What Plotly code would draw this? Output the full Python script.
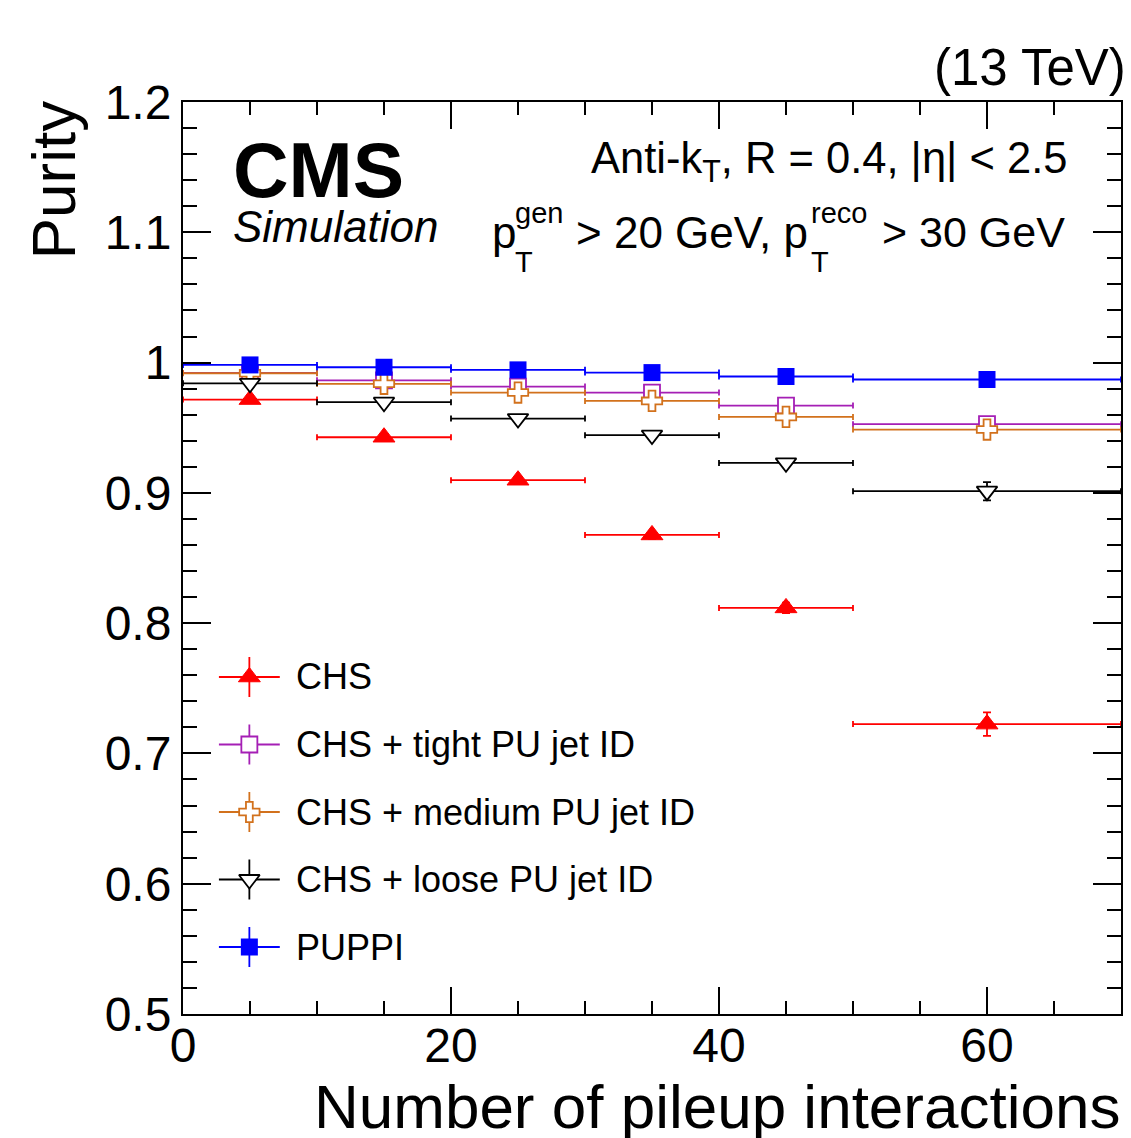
import plotly.graph_objects as go

# ---------------- data ----------------
pileup_centers = [5, 15, 25, 35, 45, 60]
pileup_halfwidths = [5, 5, 5, 5, 5, 10]

chs = [0.9716, 0.9427, 0.9097, 0.8677, 0.8117, 0.7225]
chs_err = [0.002, 0.002, 0.003, 0.003, 0.004, 0.009]

tight = [0.9920, 0.9864, 0.9816, 0.9770, 0.9670, 0.9527]
tight_err = [0.001, 0.001, 0.001, 0.002, 0.002, 0.004]

medium = [0.9918, 0.9837, 0.9770, 0.9706, 0.9583, 0.9486]
medium_err = [0.001, 0.001, 0.001, 0.002, 0.002, 0.005]

loose = [0.9841, 0.9696, 0.9570, 0.9443, 0.9230, 0.9013]
loose_err = [0.001, 0.001, 0.002, 0.002, 0.003, 0.007]

puppi = [0.9982, 0.9964, 0.9944, 0.9923, 0.9893, 0.9870]
puppi_err = [0.0005, 0.0005, 0.0005, 0.0005, 0.0008, 0.001]

series_names = ["CHS", "CHS + tight PU jet ID", "CHS + medium PU jet ID",
                "CHS + loose PU jet ID", "PUPPI"]

x_tickvals = [0, 20, 40, 60]
x_ticktext = ["0", "20", "40", "60"]
y_tickvals = [0.5, 0.6, 0.7, 0.8, 0.9, 1.0, 1.1, 1.2]
y_ticktext = ["0.5", "0.6", "0.7", "0.8", "0.9", "1", "1.1", "1.2"]

# ---------------- layout geometry ----------------
W, H = 1131, 1138
L, R, T, B = 183, 8, 102, 124
FONT = "Liberation Sans, Arial, Helvetica, sans-serif"


def pxx(x):
    return (x - L) / (W - L - R)


def pyy(y):
    return (H - B - y) / (H - T - B)


styles = [
    dict(color="#ff0000", symbol="triangle-up", size=19, fill="#ff0000", lw=1),
    dict(color="#a51fb5", symbol="square", size=16, fill="white", lw=1.8),
    dict(color="#d2711c", symbol="cross", size=17, fill="white", lw=1.8),
    dict(color="#000000", symbol="triangle-down", size=18, fill="white", lw=1.8),
    dict(color="#0000ff", symbol="square", size=17, fill="#0000ff", lw=0),
]
values = [chs, tight, medium, loose, puppi]
errors = [chs_err, tight_err, medium_err, loose_err, puppi_err]

fig = go.Figure()

for name, vals, errs, st in zip(series_names, values, errors, styles):
    fig.add_trace(go.Scatter(
        x=pileup_centers, y=vals, mode="markers", name=name, showlegend=False,
        marker=dict(symbol=st["symbol"], size=st["size"], color=st["fill"],
                    line=dict(color=st["color"], width=st["lw"])),
        error_x=dict(type="data", array=pileup_halfwidths, symmetric=True,
                     color=st["color"], thickness=1.8, width=3),
        error_y=dict(type="data", array=errs, symmetric=True,
                     color=st["color"], thickness=1.8, width=4),
    ))

# ---------------- legend (drawn on a pixel overlay axis) ----------------
leg_rows = [677, 744.5, 812, 879.5, 947]
leg_x = 249.5
for name, st, ry in zip(series_names, styles, leg_rows):
    fig.add_trace(go.Scatter(
        x=[leg_x], y=[ry], xaxis="x2", yaxis="y2", mode="markers",
        showlegend=False, hoverinfo="skip",
        marker=dict(symbol=st["symbol"], size=st["size"], color=st["fill"],
                    line=dict(color=st["color"], width=st["lw"])),
        error_x=dict(type="constant", value=30.5, color=st["color"], thickness=1.8, width=0),
        error_y=dict(type="constant", value=20, color=st["color"], thickness=1.8, width=0),
    ))

annotations = []


def ann(text, x, y, size, xanchor="left", yanchor="middle", **kw):
    annotations.append(dict(
        text=text, x=pxx(x), y=pyy(y), xref="paper", yref="paper",
        xanchor=xanchor, yanchor=yanchor, showarrow=False,
        font=dict(family=FONT, size=size, color="black"), **kw))


for name, ry in zip(series_names, leg_rows):
    ann(name, 294, ry, 36)

# header texts
ann("(13 TeV)", 1130, 67, 51, xanchor="right")
ann("<b>CMS</b>", 231, 170, 77)
ann("<i>Simulation</i>", 231, 226, 44)
ann("Anti-k<sub>T</sub>, R = 0.4, |η| < 2.5", 1071, 161, 43.5, xanchor="right")
# second line with stacked sub/superscripts
ann("p", 491, 232, 44)
ann("gen", 514, 213, 29)
ann("T", 514, 262, 29)
ann("> 20 GeV, p", 575, 232, 44)
ann("reco", 810, 213, 29)
ann("T", 810, 262, 29)
ann("> 30 GeV", 1069, 232, 43, xanchor="right")

# axis titles
ann("Number of pileup interactions", 1124, 1106.5, 62, xanchor="right")
ann("Purity", 53, 180, 62, xanchor="center", textangle=-90)

axis_common = dict(
    showline=True, linewidth=2, linecolor="black", mirror="ticks",
    ticks="inside", tickwidth=2, tickcolor="black", showgrid=False,
    zeroline=False, tickfont=dict(family=FONT, size=48, color="black"),
)

fig.update_layout(
    width=W, height=H,
    margin=dict(l=L, r=R, t=T, b=B, pad=0),
    paper_bgcolor="white", plot_bgcolor="white",
    showlegend=False,
    xaxis=dict(range=[0, 70], tickmode="array", tickvals=x_tickvals,
               ticktext=x_ticktext, ticklen=27, ticklabelstandoff=-12,
               minor=dict(tickmode="array", tickvals=[5 * i for i in range(15)],
                          ticks="inside", ticklen=13, tickwidth=2,
                          tickcolor="black", showgrid=False),
               **axis_common),
    yaxis=dict(range=[0.5, 1.2], tickmode="array", tickvals=y_tickvals,
               ticktext=y_ticktext, ticklen=28,
               minor=dict(tickmode="array",
                          tickvals=[0.5 + 0.02 * i for i in range(36)],
                          ticks="inside", ticklen=14, tickwidth=2,
                          tickcolor="black", showgrid=False),
               **axis_common),
    xaxis2=dict(overlaying="x", range=[L, W - R], visible=False, showgrid=False,
                zeroline=False, fixedrange=True),
    yaxis2=dict(overlaying="y", range=[H - B, T], visible=False, showgrid=False,
                zeroline=False, fixedrange=True),
    annotations=annotations,
)

fig.write_html("out.html")
